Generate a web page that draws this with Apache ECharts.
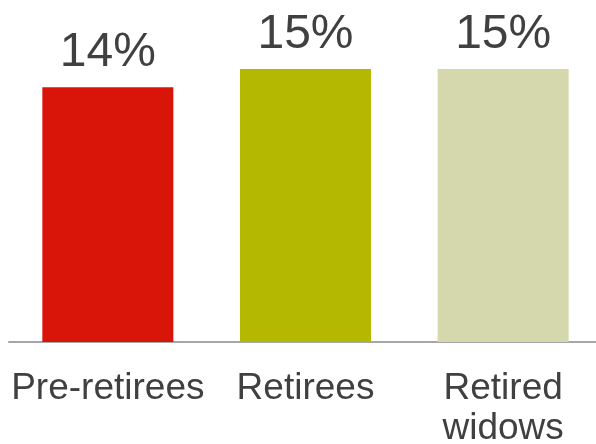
<!DOCTYPE html>
<html><head><meta charset="utf-8">
<script src="https://cdn.jsdelivr.net/npm/echarts@6/dist/echarts.min.js"></script>
<style>html,body{margin:0;padding:0;background:#fff}#c{width:596px;height:444px}</style>
</head><body><div id="c"></div>
<script>
const categories = ["Pre-retirees", "Retirees", "Retired\nwidows"];
const values = [14, 15, 15];
const colors = ["#D9150A", "#B5B800", "#D5D8AD"];

const chart = echarts.init(document.getElementById('c'), null, {renderer: 'canvas'});
chart.setOption({
  animation: false,
  grid: {left: 9, right: -6, top: 69, bottom: 102, containLabel: false, outerBoundsMode: 'none'},
  xAxis: {
    type: 'category', data: categories,
    axisLine: {show: true, lineStyle: {color: '#A6A6A6', width: 2}},
    axisTick: {show: false},
    axisLabel: {
      color: '#404040', fontFamily: 'Liberation Sans, Arial, sans-serif', fontSize: 37,
      lineHeight: 40, margin: 27, interval: 0, verticalAlign: 'top'
    }
  },
  yAxis: {type: 'value', min: 0, max: 15, show: false, splitLine: {show: false}},
  series: [{
    type: 'bar', barWidth: 131,
    data: values.map((v, i) => ({value: v, itemStyle: {color: colors[i]}})),
    label: {
      show: true, position: 'top', distance: 10,
      formatter: p => p.value + '%',
      color: '#404040', fontFamily: 'Liberation Sans, Arial, sans-serif', fontSize: 48
    }
  }]
});
</script></body></html>
